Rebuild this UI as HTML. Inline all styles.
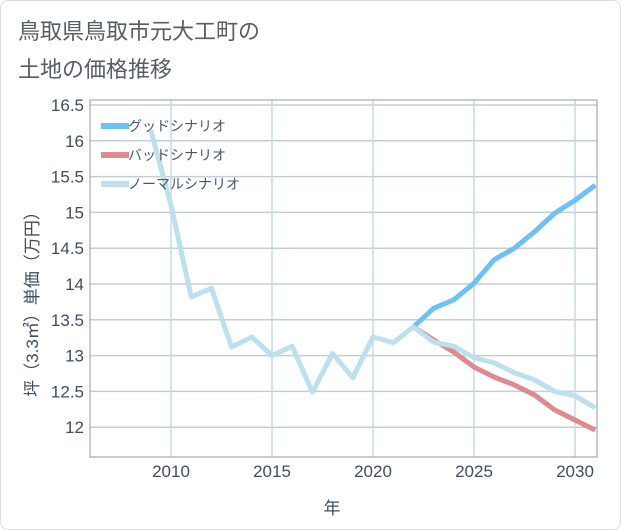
<!DOCTYPE html>
<html><head><meta charset="utf-8"><style>
body{margin:0;background:#fff;}
.card{position:absolute;left:0;top:0;width:619px;height:528px;border:1px solid #ddd;border-radius:8px;background:#fff;}
svg text{font-family:"Liberation Sans","Noto Sans CJK JP",sans-serif;}
</style></head><body>
<div class="card"></div>
<svg id="c" width="621" height="530" style="position:absolute;left:0;top:0">
<text x="18" y="39" font-size="22" fill="#555d66">鳥取県鳥取市元大工町の</text>
<text x="18" y="77" font-size="22" fill="#555d66">土地の価格推移</text>
<text x="332" y="514" font-size="17" fill="#3f4d60" text-anchor="middle">年</text>
<text transform="translate(38,300) rotate(-90)" font-size="17" fill="#3f4d60" text-anchor="middle">坪（3.3㎡）単価（万円）</text>
</svg>
<script>
const years=[2009,2010,2011,2012,2013,2014,2015,2016,2017,2018,2019,2020,2021,2022,2023,2024,2025,2026,2027,2028,2029,2030,2031];
const normal=[16.15,15.1,13.82,13.94,13.12,13.26,13.0,13.13,12.49,13.03,12.69,13.26,13.18,13.4,13.19,13.13,12.97,12.9,12.76,12.66,12.5,12.44,12.27];
const goodYears=[2022,2023,2024,2025,2026,2027,2028,2029,2030,2031];
const good=[13.4,13.66,13.78,14.01,14.34,14.5,14.73,14.99,15.17,15.38];
const bad=[13.4,13.22,13.05,12.84,12.7,12.59,12.45,12.24,12.1,11.96];
const xTicks=[2010,2015,2020,2025,2030];
const yTicks=[12,12.5,13,13.5,14,14.5,15,15.5,16,16.5];
const X0=90,X1=597,Y0=100,Y1=457;
const xs=y=>171+(y-2010)*20.2;
const ys=v=>105+(16.5-v)*71.6;
const NS="http://www.w3.org/2000/svg";
const svg=document.getElementById('c');
function mk(t,a,p){const e=document.createElementNS(NS,t);for(const k in a)e.setAttribute(k,a[k]);(p||svg).appendChild(e);return e;}
const g=mk('g',{});


yTicks.forEach(v=>{
 const l=mk('line',{x1:X0,x2:X1,y1:ys(v),y2:ys(v),stroke:'#c5cdd8','stroke-width':1.5},g);
 
 
 const t=mk('text',{x:84,y:ys(v)+6,'font-size':17,fill:'#3f4d60','text-anchor':'end'});
 t.textContent=String(v);
 
 
});
xTicks.forEach(y=>{
 const l=mk('line',{x1:xs(y),x2:xs(y),y1:Y0,y2:Y1,stroke:'#c5dbe8','stroke-width':1.5},g);
 
 
 const t=mk('text',{x:xs(y),y:477,'font-size':17,fill:'#3f4d60','text-anchor':'middle'});
 t.textContent=String(y);
 
 
});
const fr=mk('rect',{x:X0,y:Y0,width:X1-X0,height:Y1-Y0,fill:'none',stroke:'#999','stroke-width':1});


const clip=mk('clipPath',{id:'cp'});mk('rect',{x:X0,y:Y0,width:X1-X0,height:Y1-Y0},clip);
function line(xv,yv,col,name){
 const d=xv.map((x,i)=>(i?'L':'M')+xs(x)+','+ys(yv[i])).join(' ');
 const p=mk('path',{d:d,fill:'none',stroke:col,'stroke-width':5,'stroke-linejoin':'round','clip-path':'url(#cp)'});
 
 
}
line(goodYears,good,'#6ec0f5','good-scenario-line');
line(goodYears,bad,'#de8a90','bad-scenario-line');
line(years,normal,'#bde0ec','normal-scenario-line');
const leg=[['グッドシナリオ','#6ec0f5'],['バッドシナリオ','#de8a90'],['ノーマルシナリオ','#bde0ec']];
leg.forEach((e,i)=>{
 const y=126+i*29;
 const r=mk('rect',{x:101,y:y-3,width:28,height:6,fill:e[1]});
 
 
 const t=mk('text',{x:128,y:y+5,'font-size':14,fill:'#4a5566'});
 t.textContent=e[0];
 
 
});
</script>
</body></html>
